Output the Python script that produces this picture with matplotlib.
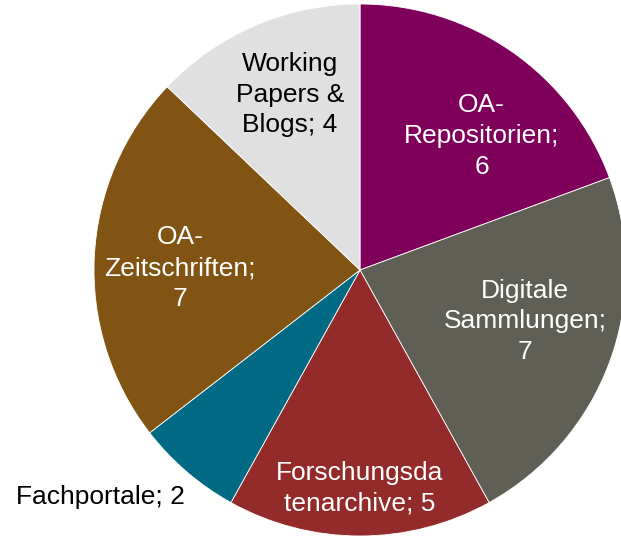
import numpy as np
import matplotlib
matplotlib.use("agg")
import matplotlib.pyplot as plt

labels = ["OA-\nRepositorien;\n6", "Digitale\nSammlungen;\n7", "Forschungsda\ntenarchive; 5",
          "Fachportale; 2", "OA-\nZeitschriften;\n7", "Working\nPapers &\nBlogs; 4"]
values = [6, 7, 5, 2, 7, 4]
colors = ["#7f005a", "#605f55", "#922b29", "#006a85", "#815413", "#e0e0e0"]
text_colors = ["white", "white", "white", "black", "white", "black"]
# radial distance (fraction of radius) and angular shift (deg, clockwise) of each label
label_frac = [0.68, 0.65, 0.82, 1.08, 0.677, 0.71]
label_shift = [7.4, -3.0, 0.0, -3.0, -2.3, 1.4]

plt.rcParams['font.family'] = ['Liberation Sans', 'DejaVu Sans']

fig = plt.figure(figsize=(6.21, 5.36), dpi=100)
ax = fig.add_axes([0, 0, 1, 1])

cx, cy, r = 360, 266, 266
wedges, _ = ax.pie(values, colors=colors, startangle=90, counterclock=False,
                   center=(cx, cy), radius=r, frame=True,
                   wedgeprops=dict(edgecolor="white", linewidth=0.6))
ax.set_xlim(0, 621)
ax.set_ylim(0, 536)
ax.set_aspect("equal")
ax.axis("off")

for w, lab, tc, fr, sh in zip(wedges, labels, text_colors, label_frac, label_shift):
    th = np.deg2rad((w.theta1 + w.theta2) / 2 - sh)
    x = cx + fr * r * np.cos(th)
    y = cy + fr * r * np.sin(th)
    if lab.startswith("Fachportale"):
        # outside label, right-aligned next to the small slice
        ax.text(x, y, lab, ha="right", va="center", fontsize=19, color=tc)
    else:
        ax.text(x, y, lab, ha="center", va="center", fontsize=19, color=tc,
                linespacing=1.35, multialignment="center")

fig.savefig("out.png", dpi=100)
